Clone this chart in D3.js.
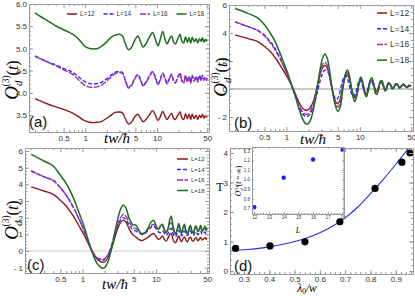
<!DOCTYPE html>
<html>
<head>
<meta charset="utf-8">
<script src="https://cdn.jsdelivr.net/npm/d3@7"></script>
<style>
body { margin: 0; background: #fff; }
svg { display: block; font-family: "Liberation Sans", Arial, sans-serif; }
.tk text { font-size: 8px; fill: #333; }
.tk path, .tk line { stroke: #999; }
.serif { font-family: "Liberation Serif", serif; font-style: italic; }
</style>
</head>
<body>
<script>
const width = 415, height = 296;

// series labels / styles
const sizes = ["L=12", "L=14", "L=16", "L=18"];
const colors = ["#8b1a1a", "#2b2bff", "#a52ab5", "#1e6e1e"];
const dashes = [null, "4,2", "6,1.5", null];

// time axis ticks
const tMajor = [0.5, 1, 5, 10, 50];
const tMinor = [0.2, 0.3, 0.4, 0.6, 0.7, 0.8, 0.9, 2, 3, 4, 6, 7, 8, 9, 20, 30, 40];

// panel (a) [t, O]
const a12 = [[0.2,3.87],[0.3,3.75],[0.4,3.68],[0.5,3.63],[0.6,3.58],[0.7,3.53],[0.8,3.47],[0.9,3.41],[1.0,3.37],[1.15,3.34],[1.3,3.33],[1.5,3.34],[1.7,3.36],[2.0,3.43],[2.3,3.5],[2.6,3.56],[3.0,3.57],[3.3,3.55],[3.6,3.43],[4.0,3.3],[4.4,3.34],[4.9,3.46],[5.4,3.52],[5.9,3.43],[6.4,3.35],[7.0,3.4],[7.8,3.5],[8.7,3.6],[9.5,3.5],[10.3,3.38],[11,3.45],[12,3.58],[13,3.47],[13.8,3.4],[14.8,3.47],[16,3.54],[17,3.43],[18,3.4],[19.5,3.5],[21,3.57],[22,3.45],[23.5,3.4],[25,3.53],[26.5,3.42],[28,3.52],[29.5,3.4],[31,3.52],[33,3.42],[35,3.5],[37,3.4],[39,3.5],[41,3.44],[43,3.52],[45,3.43],[47,3.49],[49,3.45],[50,3.47]];
const a14 = [[0.2,4.83],[0.3,4.7],[0.4,4.62],[0.5,4.55],[0.6,4.5],[0.7,4.44],[0.8,4.37],[0.9,4.3],[1.0,4.25],[1.15,4.21],[1.3,4.2],[1.5,4.21],[1.7,4.24],[2.0,4.32],[2.3,4.4],[2.6,4.46],[3.0,4.48],[3.3,4.46],[3.6,4.3],[4.0,4.13],[4.4,4.18],[4.9,4.33],[5.4,4.42],[5.9,4.3],[6.4,4.17],[7.0,4.24],[7.8,4.38],[8.7,4.48],[9.5,4.35],[10.3,4.2],[11,4.28],[12,4.45],[13,4.33],[13.8,4.22],[14.8,4.32],[16,4.42],[17,4.28],[18,4.24],[19.5,4.36],[21,4.45],[22,4.3],[23.5,4.24],[25,4.4],[26.5,4.26],[28,4.38],[29.5,4.24],[31,4.4],[33,4.28],[35,4.38],[37,4.26],[39,4.4],[41,4.3],[43,4.4],[45,4.3],[47,4.36],[49,4.3],[50,4.34]];
const a16 = [[0.2,4.82],[0.3,4.69],[0.4,4.6],[0.5,4.52],[0.6,4.46],[0.7,4.39],[0.8,4.3],[0.9,4.22],[1.0,4.17],[1.15,4.13],[1.3,4.12],[1.5,4.14],[1.7,4.18],[2.0,4.27],[2.3,4.36],[2.6,4.43],[3.0,4.46],[3.3,4.44],[3.6,4.28],[4.0,4.11],[4.4,4.16],[4.9,4.31],[5.4,4.4],[5.9,4.28],[6.4,4.16],[7.0,4.22],[7.8,4.36],[8.7,4.47],[9.5,4.33],[10.3,4.19],[11,4.27],[12,4.44],[13,4.3],[13.8,4.2],[14.8,4.3],[16,4.4],[17,4.26],[18,4.22],[19.5,4.34],[21,4.43],[22,4.28],[23.5,4.22],[25,4.38],[26.5,4.24],[28,4.36],[29.5,4.22],[31,4.38],[33,4.26],[35,4.36],[37,4.24],[39,4.38],[41,4.28],[43,4.38],[45,4.28],[47,4.34],[49,4.28],[50,4.32]];
const a18 = [[0.2,5.8],[0.26,5.68],[0.33,5.58],[0.4,5.5],[0.5,5.42],[0.6,5.36],[0.7,5.3],[0.8,5.22],[0.9,5.12],[1.0,5.04],[1.15,5.0],[1.3,4.99],[1.5,5.0],[1.7,5.05],[2.0,5.15],[2.3,5.25],[2.6,5.3],[3.0,5.32],[3.3,5.28],[3.6,5.12],[4.0,4.97],[4.4,5.02],[4.9,5.18],[5.4,5.28],[5.9,5.15],[6.4,5.03],[7.0,5.1],[7.8,5.25],[8.7,5.36],[9.5,5.2],[10.3,5.06],[11,5.18],[12,5.38],[13,5.2],[13.8,5.1],[14.8,5.2],[16,5.28],[17,5.15],[18,5.1],[19.5,5.22],[21,5.32],[22,5.18],[23.5,5.12],[25,5.26],[26.5,5.14],[28,5.24],[29.5,5.12],[31,5.25],[33,5.15],[35,5.22],[37,5.12],[39,5.22],[41,5.16],[43,5.24],[45,5.14],[47,5.2],[49,5.17],[50,5.2]];

// panel (b)
const b12 = [[0.2,3.85],[0.3,3.6],[0.4,3.4],[0.5,3.05],[0.6,2.7],[0.7,2.25],[0.8,1.8],[0.9,1.35],[1.0,0.95],[1.1,0.55],[1.2,0.15],[1.35,-0.45],[1.5,-1.0],[1.65,-1.35],[1.8,-1.5],[1.95,-1.5],[2.1,-1.35],[2.3,-0.95],[2.5,-0.3],[2.7,0.45],[2.9,1.1],[3.1,1.5],[3.35,1.7],[3.6,1.5],[3.9,0.8],[4.2,-0.05],[4.6,-0.8],[5.0,-1.05],[5.4,-0.75],[5.8,0.05],[6.3,0.8],[6.8,1.05],[7.3,0.6],[7.9,-0.2],[8.5,-0.6],[9.1,-0.35],[9.7,0.3],[10.3,0.7],[11,0.35],[11.6,-0.15],[12.3,-0.35],[13,-0.05],[13.8,0.45],[14.6,0.6],[15.5,0.3],[16.3,-0.05],[17.1,-0.15],[18,0.1],[19,0.45],[20,0.45],[21,0.2],[22,0.0],[23.2,0.1],[24.5,0.38],[26,0.3],[27.5,0.08],[29,0.12],[30.5,0.3],[32.5,0.3],[34.5,0.1],[36.5,0.18],[39,0.3],[41.5,0.2],[44,0.12],[47,0.22],[50,0.2]];
const b14 = [[0.2,4.8],[0.3,4.45],[0.4,4.2],[0.5,3.85],[0.6,3.4],[0.7,2.9],[0.8,2.35],[0.9,1.75],[1.0,1.2],[1.1,0.65],[1.2,0.1],[1.35,-0.6],[1.5,-1.3],[1.65,-1.75],[1.8,-1.95],[1.95,-1.95],[2.1,-1.8],[2.3,-1.35],[2.5,-0.7],[2.7,0.0],[2.9,0.65],[3.1,1.1],[3.35,1.35],[3.6,1.3],[3.9,0.8],[4.2,0.0],[4.5,-0.55],[4.8,-0.75],[5.2,-0.5],[5.6,0.25],[6.1,0.85],[6.5,0.95],[7.0,0.5],[7.6,-0.25],[8.2,-0.55],[8.8,-0.25],[9.4,0.35],[10,0.65],[10.7,0.35],[11.3,-0.1],[12,-0.3],[12.8,0.0],[13.6,0.45],[14.4,0.55],[15.3,0.25],[16.2,-0.05],[17,-0.15],[18,0.15],[19,0.45],[20,0.45],[21,0.2],[22,0.05],[23.2,0.15],[24.5,0.4],[26,0.3],[27.5,0.12],[29,0.15],[30.5,0.32],[32.5,0.3],[34.5,0.15],[36.5,0.2],[39,0.32],[41.5,0.22],[44,0.15],[47,0.25],[50,0.22]];
const b16 = [[0.2,4.8],[0.3,4.45],[0.4,4.2],[0.5,3.8],[0.6,3.3],[0.7,2.8],[0.8,2.25],[0.9,1.7],[1.0,1.2],[1.1,0.65],[1.2,0.15],[1.35,-0.55],[1.5,-1.2],[1.65,-1.6],[1.8,-1.8],[1.95,-1.8],[2.1,-1.6],[2.3,-1.1],[2.5,-0.35],[2.7,0.5],[2.9,1.25],[3.1,1.75],[3.35,1.9],[3.6,1.7],[3.9,0.9],[4.2,-0.05],[4.6,-0.95],[5.0,-1.3],[5.4,-0.95],[5.8,0.0],[6.3,0.95],[6.8,1.2],[7.3,0.7],[7.9,-0.25],[8.5,-0.75],[9.1,-0.4],[9.7,0.35],[10.3,0.8],[11,0.4],[11.6,-0.2],[12.3,-0.45],[13,-0.05],[13.8,0.55],[14.6,0.7],[15.5,0.35],[16.3,-0.1],[17.1,-0.25],[18,0.1],[19,0.5],[20,0.55],[21,0.25],[22,0.0],[23.2,0.1],[24.5,0.45],[26,0.35],[27.5,0.1],[29,0.12],[30.5,0.35],[32.5,0.35],[34.5,0.12],[36.5,0.2],[39,0.35],[41.5,0.25],[44,0.15],[47,0.28],[50,0.25]];
const b18 = [[0.2,5.75],[0.3,5.4],[0.4,5.1],[0.5,4.6],[0.6,4.0],[0.7,3.4],[0.8,2.7],[0.9,2.0],[1.0,1.4],[1.1,0.75],[1.2,0.15],[1.35,-0.7],[1.5,-1.5],[1.65,-2.1],[1.8,-2.45],[1.95,-2.5],[2.1,-2.3],[2.3,-1.6],[2.5,-0.6],[2.7,0.5],[2.9,1.5],[3.1,2.2],[3.35,2.5],[3.6,2.2],[3.9,1.2],[4.2,0.0],[4.6,-1.1],[5.0,-1.6],[5.4,-1.3],[5.8,-0.2],[6.3,1.0],[6.8,1.35],[7.3,0.8],[7.9,-0.3],[8.5,-0.9],[9.1,-0.5],[9.7,0.4],[10.3,0.85],[11,0.4],[11.6,-0.3],[12.3,-0.55],[13,-0.1],[13.8,0.6],[14.6,0.8],[15.5,0.3],[16.3,-0.3],[17.1,-0.4],[18,0.0],[19,0.55],[20,0.6],[21,0.2],[22,-0.15],[23.2,0.0],[24.5,0.45],[26,0.35],[27.5,0.0],[29,0.05],[30.5,0.35],[32.5,0.35],[34.5,0.05],[36.5,0.15],[39,0.35],[41.5,0.2],[44,0.1],[47,0.25],[50,0.22]];

// panel (c)
const c12 = [[0.2,3.85],[0.3,3.6],[0.4,3.4],[0.5,3.05],[0.6,2.7],[0.7,2.3],[0.8,1.9],[0.9,1.5],[1.0,1.15],[1.1,0.8],[1.2,0.45],[1.35,0.0],[1.5,-0.35],[1.65,-0.55],[1.85,-0.67],[2.0,-0.65],[2.2,-0.45],[2.45,0.05],[2.7,0.65],[3.0,1.3],[3.3,1.7],[3.6,1.85],[3.9,1.75],[4.3,1.35],[4.8,1.0],[5.3,0.85],[5.8,0.7],[6.4,0.62],[7.0,0.7],[7.7,0.8],[8.5,0.95],[9.3,1.05],[10,0.9],[10.8,0.7],[11.5,0.75],[12.3,0.9],[13,0.72],[13.8,0.6],[14.6,0.75],[15.5,1.0],[16.2,1.05],[17,0.75],[17.8,0.55],[18.6,0.5],[19.5,0.7],[20.5,0.9],[21.5,0.7],[22.5,0.55],[23.5,0.75],[24.5,0.85],[25.8,0.65],[27,0.55],[28.3,0.75],[29.6,0.85],[31,0.65],[32.5,0.6],[34,0.75],[35.5,0.8],[37.2,0.62],[39,0.7],[40.8,0.82],[42.7,0.66],[44.6,0.72],[46.6,0.8],[48.5,0.7],[50,0.78]];
const c14 = [[0.2,4.8],[0.3,4.45],[0.4,4.25],[0.5,3.8],[0.6,3.35],[0.7,2.85],[0.8,2.4],[0.9,1.9],[1.0,1.45],[1.1,1.0],[1.2,0.55],[1.35,0.0],[1.5,-0.35],[1.65,-0.5],[1.85,-0.55],[2.0,-0.5],[2.2,-0.3],[2.45,0.2],[2.7,0.8],[3.0,1.45],[3.3,1.85],[3.6,2.0],[3.9,1.9],[4.3,1.55],[4.8,1.3],[5.3,1.2],[5.8,1.1],[6.4,1.0],[7.0,1.05],[7.7,1.2],[8.5,1.4],[9.3,1.5],[10,1.35],[10.8,1.15],[11.5,1.1],[12.3,1.2],[13,1.1],[13.8,0.95],[14.6,1.05],[15.5,1.3],[16.2,1.35],[17,1.1],[17.8,0.9],[18.6,0.85],[19.5,1.05],[20.5,1.25],[21.5,1.05],[22.5,0.9],[23.5,1.1],[24.5,1.2],[25.8,1.0],[27,0.92],[28.3,1.1],[29.6,1.2],[31,1.0],[32.5,0.95],[34,1.1],[35.5,1.15],[37.2,0.98],[39,1.05],[40.8,1.18],[42.7,1.0],[44.6,1.08],[46.6,1.15],[48.5,1.02],[50,1.1]];
const c16 = [[0.2,4.82],[0.3,4.45],[0.4,4.22],[0.5,3.8],[0.6,3.35],[0.7,2.88],[0.8,2.4],[0.9,1.92],[1.0,1.45],[1.1,1.0],[1.2,0.55],[1.35,0.02],[1.5,-0.3],[1.65,-0.45],[1.85,-0.5],[2.0,-0.45],[2.2,-0.25],[2.45,0.25],[2.7,0.9],[3.0,1.55],[3.3,2.0],[3.6,2.2],[3.9,2.1],[4.3,1.75],[4.8,1.45],[5.3,1.35],[5.8,1.2],[6.4,1.05],[7.0,1.1],[7.7,1.3],[8.5,1.5],[9.3,1.6],[10,1.45],[10.8,1.3],[11.5,1.45],[12.3,1.5],[13,1.3],[13.8,1.15],[14.6,1.3],[15.5,1.65],[16.2,1.7],[17,1.35],[17.8,1.1],[18.6,1.0],[19.5,1.25],[20.5,1.5],[21.5,1.3],[22.5,1.1],[23.5,1.35],[24.5,1.45],[25.8,1.2],[27,1.1],[28.3,1.3],[29.6,1.45],[31,1.2],[32.5,1.15],[34,1.35],[35.5,1.4],[37.2,1.2],[39,1.25],[40.8,1.42],[42.7,1.2],[44.6,1.28],[46.6,1.4],[48.5,1.22],[50,1.35]];
const c18 = [[0.2,5.8],[0.3,5.4],[0.4,5.1],[0.5,4.55],[0.6,4.05],[0.7,3.5],[0.8,2.9],[0.9,2.3],[1.0,1.75],[1.1,1.2],[1.2,0.65],[1.35,-0.05],[1.5,-0.55],[1.65,-0.85],[1.85,-1.02],[2.0,-1.0],[2.2,-0.7],[2.45,0.0],[2.7,0.9],[3.0,1.85],[3.3,2.5],[3.6,2.75],[3.9,2.6],[4.3,2.0],[4.8,1.6],[5.3,1.55],[5.8,1.3],[6.4,1.0],[7.0,1.05],[7.7,1.3],[8.5,1.7],[9.3,1.85],[10,1.55],[10.8,1.3],[11.5,1.5],[12.3,1.6],[13,1.3],[13.8,1.1],[14.6,1.3],[15.5,1.9],[16.2,2.1],[17,1.6],[17.8,1.2],[18.6,1.0],[19.5,1.3],[20.5,1.65],[21.5,1.3],[22.5,1.05],[23.5,1.4],[24.5,1.6],[25.8,1.2],[27,1.0],[28.3,1.35],[29.6,1.55],[31,1.2],[32.5,1.05],[34,1.4],[35.5,1.5],[37.2,1.15],[39,1.3],[40.8,1.55],[42.7,1.2],[44.6,1.3],[46.6,1.5],[48.5,1.25],[50,1.4]];

// panel (d)
const lambda = [0.267, 0.403, 0.541, 0.679, 0.818, 0.924, 0.956];
const tau = [0.77, 0.85, 0.99, 1.67, 2.8, 3.69, 4.0];
const fitLambda = [0.245, 0.3, 0.35, 0.4, 0.45, 0.5, 0.55, 0.6, 0.65, 0.7, 0.75, 0.8, 0.85, 0.9, 0.94, 0.97];
const fitTau = [0.68, 0.72, 0.76, 0.82, 0.9, 1.0, 1.13, 1.3, 1.52, 1.8, 2.17, 2.62, 3.1, 3.62, 4.05, 4.4];
const insetL = [12, 14, 16, 18];
const insetO = [0.71, 1.02, 1.21, 1.31];

const svg = d3.select("body").append("svg").attr("width", width).attr("height", height);

function frame(g, x, y, o) {
  const ax = (gen, tx, ty) => g.append("g").attr("class", "tk")
      .attr("transform", `translate(${tx},${ty})`).call(gen);
  const inX = v => v >= x.domain()[0] && v <= x.domain()[1];
  const inY = v => v >= y.domain()[0] && v <= y.domain()[1];
  const mn = o.minor || 2, mj = o.major || 4;
  ax(d3.axisBottom(x).tickValues(o.xMinor.filter(inX)).tickFormat("").tickSizeInner(-mn).tickSizeOuter(0), 0, o.bottom);
  ax(d3.axisTop(x).tickValues(o.xMinor.filter(inX)).tickFormat("").tickSizeInner(-mn).tickSizeOuter(0), 0, o.top);
  ax(d3.axisLeft(y).tickValues(o.yMinor.filter(inY)).tickFormat("").tickSizeInner(-mn).tickSizeOuter(0), o.left, 0);
  ax(d3.axisRight(y).tickValues(o.yMinor.filter(inY)).tickFormat("").tickSizeInner(-mn).tickSizeOuter(0), o.right, 0);
  ax(d3.axisBottom(x).tickValues(o.xTicks).tickFormat(o.xFmt).tickSizeInner(-mj).tickSizeOuter(0).tickPadding(o.pad || 3), 0, o.bottom);
  ax(d3.axisTop(x).tickValues(o.xTicks).tickFormat("").tickSizeInner(-mj).tickSizeOuter(0), 0, o.top);
  ax(d3.axisLeft(y).tickValues(o.yTicks).tickFormat(o.yFmt).tickSizeInner(-mj).tickSizeOuter(0).tickPadding(2), o.left, 0);
  ax(d3.axisRight(y).tickValues(o.yTicks).tickFormat("").tickSizeInner(-mj).tickSizeOuter(0), o.right, 0);
}

function oLabel(cx, cy) {
  const t = svg.append("text").attr("class", "serif")
      .attr("transform", `translate(${cx},${cy}) rotate(-90)`)
      .attr("text-anchor", "middle").attr("dy", "0.35em");
  t.append("tspan").attr("font-size", 19).text("O");
  t.append("tspan").attr("font-size", 11).attr("dy", 4).text("d");
  t.append("tspan").attr("font-size", 9.5).attr("font-style", "normal").attr("dx", -6).attr("dy", -13).text("(3)");
  t.append("tspan").attr("font-size", 16).attr("font-style", "normal").attr("dy", 9).text("(");
  t.append("tspan").attr("font-size", 16).text("t");
  t.append("tspan").attr("font-size", 16).attr("font-style", "normal").text(")");
}

function twLabel(cx, by) {
  svg.append("text").attr("class", "serif").attr("x", cx).attr("y", by)
     .attr("text-anchor", "middle").attr("font-size", 15).text("tw/\u0127");
}

const minusFmt = d => d < 0 ? "- " + Math.abs(d) : String(d);

function timePanel(o) {
  const x = d3.scaleLog().domain([0.165, 53]).range([o.left, o.right]);
  const y = d3.scaleLinear().domain(o.yDomain).range([o.bottom, o.top]);
  svg.append("clipPath").attr("id", "clip" + o.name).append("rect")
     .attr("x", o.left).attr("y", o.top).attr("width", o.right - o.left).attr("height", o.bottom - o.top);
  const g = svg.append("g");
  if (o.zero) {
    g.append("line").attr("x1", o.left).attr("x2", o.right).attr("y1", y(0)).attr("y2", y(0))
     .attr("stroke", "#c8c8c8").attr("stroke-width", o.zero);
  }
  const line = d3.line().x(d => x(d[0])).y(d => y(d[1])).curve(d3.curveCatmullRom);
  const cg = g.append("g").attr("clip-path", `url(#clip${o.name})`);
  o.series.forEach((s, i) => {
    cg.append("path").attr("d", line(s)).attr("fill", "none")
      .attr("stroke", colors[i]).attr("stroke-width", i === 3 ? 1.5 : 1.4)
      .attr("stroke-dasharray", dashes[i]).attr("stroke-linejoin", "round");
  });
  frame(g, x, y, {
    left: o.left, right: o.right, top: o.top, bottom: o.bottom,
    xTicks: tMajor, xMinor: tMinor, xFmt: d => String(d),
    yTicks: o.yTicks, yMinor: o.yMinor, yFmt: o.yFmt
  });
  // legend
  const lg = svg.append("g").attr("font-size", o.leg.size);
  sizes.forEach((s, i) => {
    const lx = o.leg.x + i * o.leg.dx, ly = o.leg.y + i * o.leg.dy;
    lg.append("line").attr("x1", lx).attr("x2", lx + o.leg.len).attr("y1", ly).attr("y2", ly)
      .attr("stroke", colors[i]).attr("stroke-width", 1.5).attr("stroke-dasharray", dashes[i]);
    lg.append("text").attr("x", lx + o.leg.len + 3).attr("y", ly).attr("dy", "0.35em")
      .attr("fill", "#333").text(s);
  });
  svg.append("text").attr("x", o.tag[0]).attr("y", o.tag[1]).attr("font-size", 15)
     .attr("fill", "#111").text(o.tagText);
}

// (a)
timePanel({
  name: "a", left: 29, right: 209, top: 4, bottom: 132,
  yDomain: [3.12, 6.0], yTicks: [3.5, 4, 4.5, 5, 5.5, 6],
  yMinor: d3.range(3.2, 6.0, 0.1).map(v => +v.toFixed(1)), yFmt: d3.format(".1f"),
  series: [a12, a14, a16, a18],
  leg: { x: 67, y: 14, dx: 36.5, dy: 0, len: 10, size: 6.5 },
  tag: [29, 127], tagText: "(a)"
});
oLabel(12, 80);
twLabel(117, 143);

// (b)
timePanel({
  name: "b", left: 229, right: 413, top: 5, bottom: 131,
  yDomain: [-3.0, 6.0], yTicks: [-2, 0, 2, 4, 6],
  yMinor: d3.range(-3, 6.01, 0.5), yFmt: minusFmt, zero: 2,
  series: [b12, b14, b16, b18],
  leg: { x: 377, y: 13, dx: 0, dy: 15.7, len: 10, size: 8.5 },
  tag: [234, 128], tagText: "(b)"
});
oLabel(221, 77);
twLabel(313, 144);

// (c)
timePanel({
  name: "c", left: 25, right: 209, top: 148, bottom: 273,
  yDomain: [-1.32, 6.18], yTicks: [-1, 0, 1, 2, 3, 4, 5, 6],
  yMinor: d3.range(-1.2, 6.1, 0.2).map(v => +v.toFixed(1)), yFmt: minusFmt, zero: 1,
  series: [c12, c14, c16, c18],
  leg: { x: 177, y: 159, dx: 0, dy: 10.5, len: 11, size: 6 },
  tag: [27, 270], tagText: "(c)"
});
oLabel(12, 220);
twLabel(115, 289);

// (d)
{
  const left = 230, right = 413, top = 148, bottom = 274;
  const x = d3.scaleLinear().domain([0.245, 0.968]).range([left, right]);
  const y = d3.scaleLinear().domain([-0.1, 4.17]).range([bottom, top]);
  svg.append("clipPath").attr("id", "clipd").append("rect")
     .attr("x", left).attr("y", top).attr("width", right - left).attr("height", bottom - top);
  const g = svg.append("g");
  const fit = fitLambda.map((l, i) => [l, fitTau[i]]);
  g.append("path").attr("clip-path", "url(#clipd)")
   .attr("d", d3.line().x(d => x(d[0])).y(d => y(d[1])).curve(d3.curveMonotoneX)(fit))
   .attr("fill", "none").attr("stroke", "#2233dd").attr("stroke-width", 1.1);
  g.selectAll(".pt").data(lambda).join("circle").attr("class", "pt")
   .attr("cx", d => x(d)).attr("cy", (d, i) => y(tau[i])).attr("r", 3.6).attr("fill", "#000");
  frame(g, x, y, {
    left, right, top, bottom, pad: 2,
    xTicks: [0.3, 0.4, 0.5, 0.6, 0.7, 0.8, 0.9], xMinor: d3.range(0.26, 0.97, 0.02).map(v => +v.toFixed(2)),
    xFmt: d3.format(".1f"),
    yTicks: [0, 1, 2, 3, 4], yMinor: d3.range(0, 4.2, 0.2).map(v => +v.toFixed(1)), yFmt: d => String(d)
  });
  svg.append("text").attr("x", 234).attr("y", 271).attr("font-size", 15).attr("fill", "#111").text("(d)");
  svg.append("text").attr("x", 220).attr("y", 191).attr("text-anchor", "middle")
     .attr("font-family", "Liberation Serif, serif").attr("font-size", 12).text("T");
  const xl = svg.append("text").attr("class", "serif").attr("x", 307).attr("y", 292)
     .attr("text-anchor", "middle").attr("font-size", 11.5);
  xl.append("tspan").text("\u03bb");
  xl.append("tspan").attr("font-size", 7.5).attr("font-style", "normal").attr("dy", 1.5).text("0");
  xl.append("tspan").attr("dy", -1.5).text("/w");

  // inset
  const il = 252, ir = 344, it = 147, ib = 214;
  const ix = d3.scaleLinear().domain([11.85, 18.1]).range([il, ir]);
  const iy = d3.scaleLinear().domain([0.64, 1.34]).range([ib, it]);
  const ig = svg.append("g");
  ig.append("rect").attr("x", il).attr("y", it).attr("width", ir - il).attr("height", ib - it).attr("fill", "#fff");
  ig.selectAll(".ip").data(insetL).join("circle").attr("class", "ip")
    .attr("cx", d => ix(d)).attr("cy", (d, i) => iy(insetO[i])).attr("r", 2.2).attr("fill", "#1a1aff");
  frame(ig, ix, iy, {
    left: il, right: ir, top: it, bottom: ib, major: 2, minor: 1, pad: 2,
    xTicks: [12, 13, 14, 15, 16, 17, 18], xMinor: d3.range(12, 18.01, 0.2),
    xFmt: d => String(d),
    yTicks: [0.7, 0.8, 0.9, 1.0, 1.1, 1.2, 1.3], yMinor: d3.range(0.66, 1.34, 0.02), yFmt: d3.format(".1f")
  });
  ig.selectAll(".tk text").style("font-size", "4.5px");
  svg.append("text").attr("class", "serif").attr("x", 298).attr("y", 233)
     .attr("text-anchor", "middle").attr("font-size", 8).text("L");
  const il2 = svg.append("text").attr("class", "serif")
     .attr("transform", "translate(241,181) rotate(-90)").attr("text-anchor", "middle").attr("font-size", 7.5);
  il2.append("tspan").text("O");
  il2.append("tspan").attr("font-size", 4.5).attr("dy", 2).text("d");
  il2.append("tspan").attr("font-size", 4.5).attr("font-style", "normal").attr("dx", -3).attr("dy", -5).text("(3)");
  il2.append("tspan").attr("font-style", "normal").attr("dy", 3).text("(");
  il2.append("tspan").text("t");
  il2.append("tspan").attr("font-style", "normal").text(" = \u221e)");
}
</script>
</body>
</html>
